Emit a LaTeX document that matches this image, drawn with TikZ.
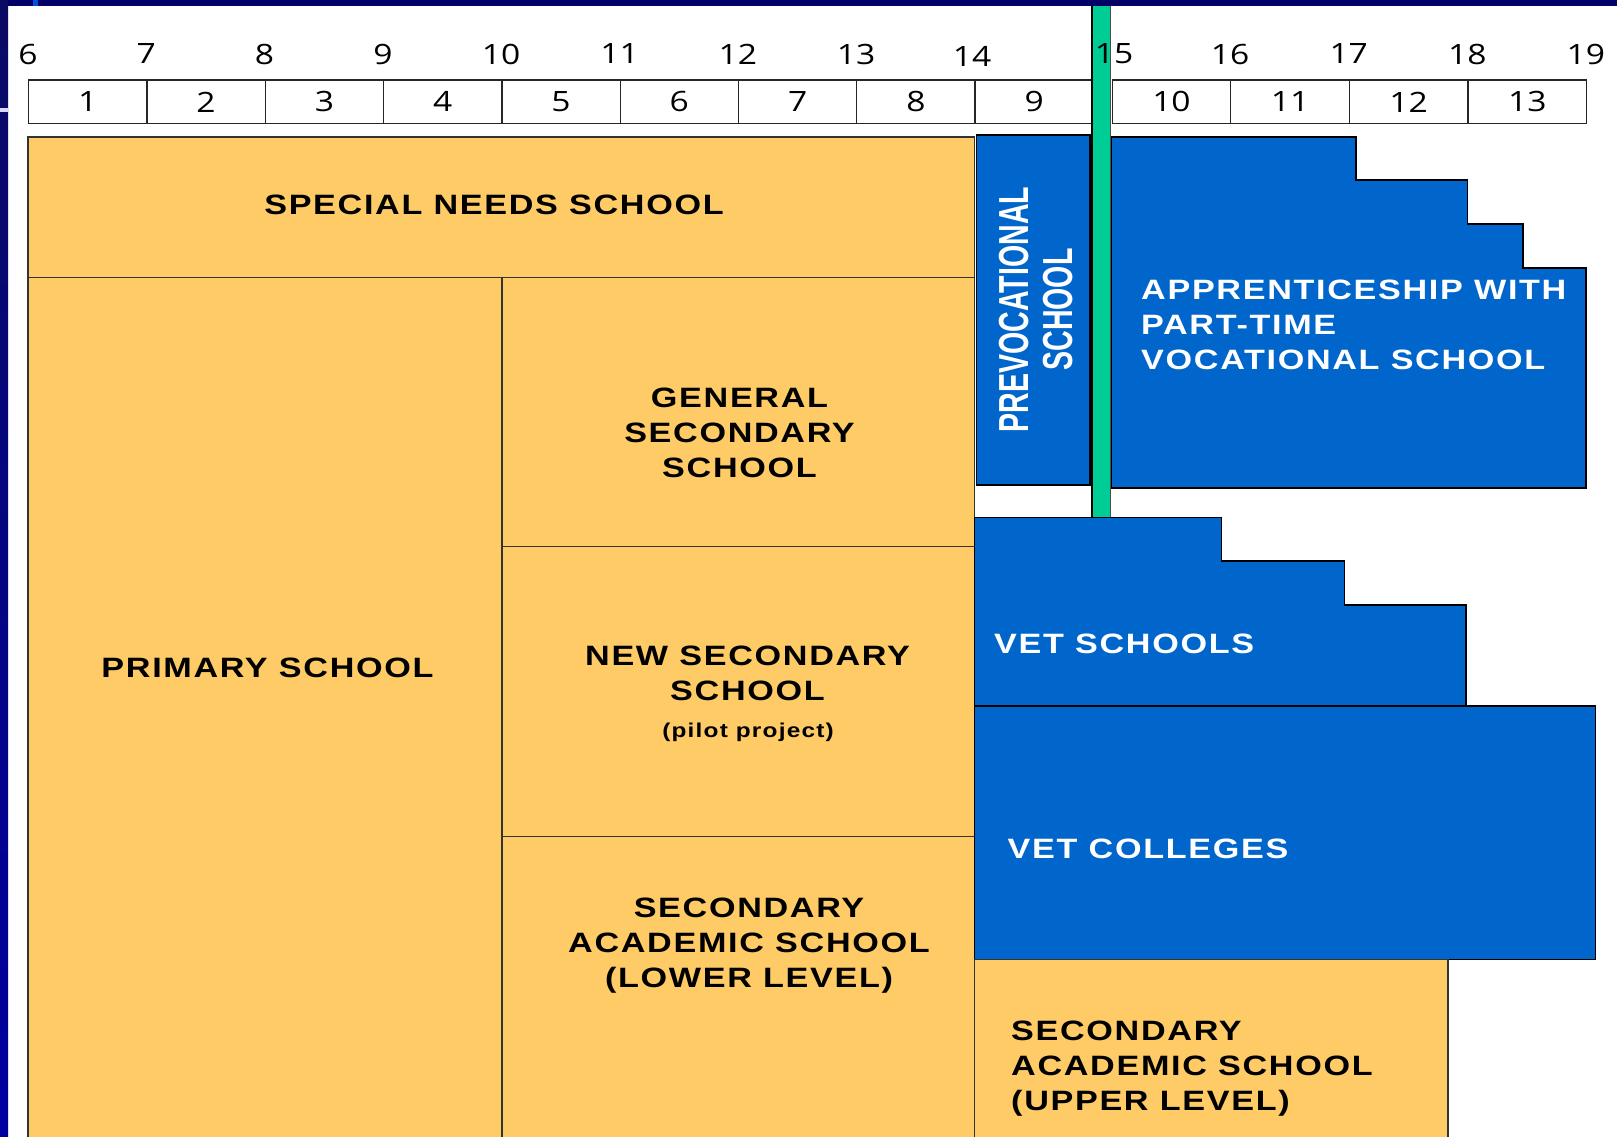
\documentclass[tikz,border=0pt]{standalone}
\usepackage{fontspec}
\setmainfont{Liberation Sans}
\newfontfamily\labfont{Liberation Sans}[FakeStretch=1.22,LetterSpace=6]
\newfontfamily\narrowfont{Liberation Sans}[FakeStretch=0.68]
\newfontfamily\numfont{Open Sans}[FakeStretch=1.2]
\definecolor{yel}{RGB}{254,203,103}
\definecolor{blu}{RGB}{0,102,204}
\definecolor{grn}{RGB}{0,204,150}
\definecolor{navy}{RGB}{0,0,102}
\definecolor{stripA}{RGB}{10,10,100}
\definecolor{stripB}{RGB}{0,0,160}
\definecolor{tick}{RGB}{0,80,220}
\begin{document}
\begin{tikzpicture}[x=1pt,y=-1pt,
  yb/.style={fill=yel,draw=black!80,line width=1.3pt},
  bb/.style={fill=blu,draw=black,line width=1.8pt},
  blk/.style={font=\labfont\bfseries\fontsize{28}{35}\selectfont,text=black,align=center,inner sep=0pt},
  wht/.style={font=\labfont\bfseries\fontsize{28}{35}\selectfont,text=white,align=left,inner sep=0pt},
  cell/.style={draw=black!85,line width=1.3pt,fill=white,inner sep=0pt,anchor=north west,
     minimum height=43.5pt,font=\numfont\fontsize{28}{30}\selectfont},
  num/.style={font=\numfont\fontsize{28}{30}\selectfont,inner sep=0pt}]
\useasboundingbox (0,0) rectangle (1617,1137);
\clip (0,0) rectangle (1617,1137);
\fill[white] (0,0) rectangle (1617,1137);
% frame strips
\fill[navy] (0,0) rectangle (1617,6);
\shade[top color=stripA,bottom color=stripB] (0,0) rectangle (8,1137);
\fill[blue!15!white] (0,108) rectangle (8,112);
\fill[tick] (33,0) rectangle (38,6);
% ruler
\foreach \i in {1,...,9}
  \node[cell,minimum width=118.3pt] (c\i) at ({28+(\i-1)*118.3},79.5) {\i};
\foreach \i in {10,...,13}
  \node[cell,minimum width=118.6pt] (c\i) at ({1111.5+(\i-10)*118.6},79.5) {\i};
% green bar
\fill[grn] (1092,6) rectangle (1110.5,517.5);
\draw[black,line width=2pt] (1092,6) -- (1092,517.5);
\draw[black!70,line width=1pt] (1110.5,6) -- (1110.5,517.5);
% ages
\foreach \a in {6,...,13}
  \node[num] (a\a) at ({28+(\a-6)*118.3},54) {\a};
\node[num] (a14) at (972,56) {14};
\node[num] (a15) at (1114,54) {15};
\foreach \a in {16,...,19}
  \node[num] (a\a) at ({1111.5+(\a-15)*118.6},54) {\a};
% yellow blocks
\draw[yb] (28,137) rectangle (974.5,277.5);
\draw[yb] (28,277.5) rectangle (502,1150);
\draw[yb] (502,277.5) rectangle (974.5,546.5);
\draw[yb] (502,546.5) rectangle (974.5,836.5);
\draw[yb] (502,836.5) rectangle (974.5,1150);
% blue blocks
\draw[bb] (976.5,135) rectangle (1090,485);
\draw[bb] (1111.5,137) -- (1356,137) -- (1356,180) -- (1467.5,180) -- (1467.5,224)
   -- (1523,224) -- (1523,268) -- (1586,268) -- (1586,488) -- (1111.5,488) -- cycle;
\draw[bb] (974.5,517.5) -- (1221.5,517.5) -- (1221.5,561) -- (1344.5,561) -- (1344.5,605)
   -- (1466,605) -- (1466,706) -- (974.5,706) -- cycle;
\draw[bb] (974.5,706) rectangle (1595.5,959.5);
\draw[yb] (974.5,959.5) rectangle (1448,1150);
% labels
\node[blk] (sn) at (494,205) {SPECIAL NEEDS SCHOOL};
\node[blk] (ps) at (267.5,668) {PRIMARY SCHOOL};
\node[blk] (gs) at (739.5,433) {GENERAL\\SECONDARY\\SCHOOL};
\node[blk] (ns) at (747.5,673) {NEW SECONDARY\\SCHOOL};
\node[font=\labfont\bfseries\fontsize{20}{24}\selectfont,inner sep=0pt] (pp) at (748,732) {(pilot project)};
\node[blk] (ll) at (749,945.5) {SECONDARY\\ACADEMIC SCHOOL\\(LOWER LEVEL)};
\node[blk,anchor=west,align=left] (ul) at (1011,1069) {SECONDARY\\ACADEMIC SCHOOL\\(UPPER LEVEL)};
\node[wht,anchor=west] (ap) at (1141,325) {APPRENTICESHIP WITH\\PART-TIME\\VOCATIONAL SCHOOL};
\node[wht,anchor=west] (vs) at (994,643.5) {VET SCHOOLS};
\node[wht,anchor=west] (vc) at (1007.5,849) {VET COLLEGES};
\node[rotate=90,font=\narrowfont\bfseries\fontsize{42}{44}\selectfont,text=white,align=center,inner sep=0pt] (pv) at (1036,309.5) {PREVOCATIONAL\\SCHOOL};
\end{tikzpicture}
\end{document}
